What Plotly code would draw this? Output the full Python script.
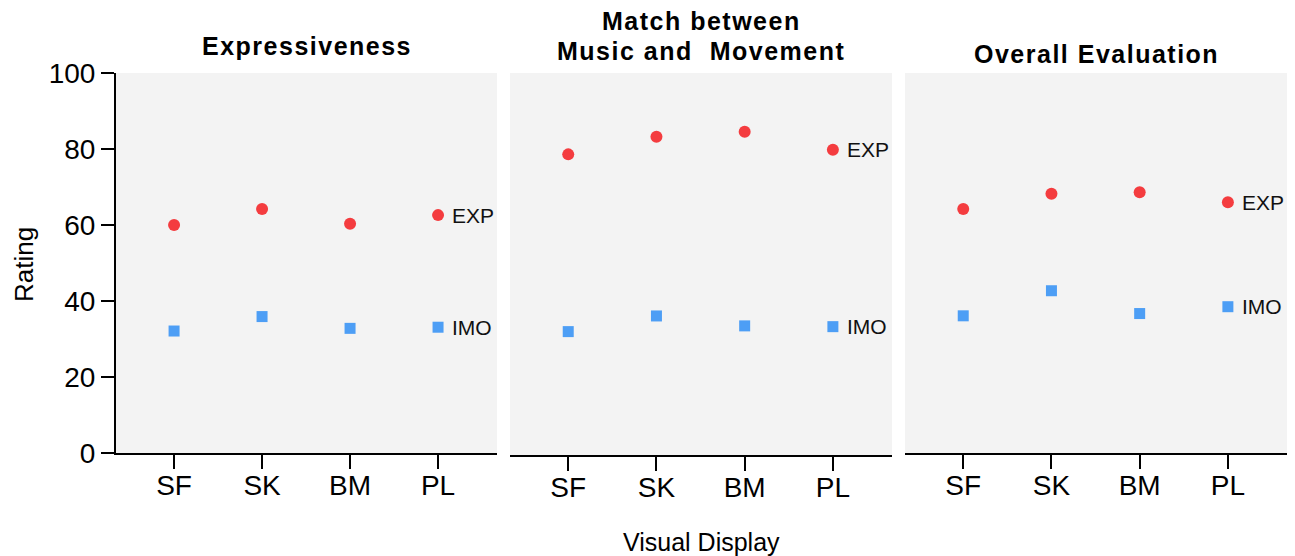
import plotly.graph_objects as go

categories = ["SF", "SK", "BM", "PL"]
panel_titles = ["Expressiveness", "Match between<br>Music and  Movement", "Overall Evaluation"]
exp_values = [
    [60.0, 64.2, 60.3, 62.6],
    [78.7, 83.3, 84.6, 79.9],
    [64.2, 68.2, 68.6, 66.0],
]
imo_values = [
    [32.1, 35.9, 32.8, 33.1],
    [32.3, 36.4, 33.8, 33.6],
    [36.1, 42.7, 36.7, 38.5],
]
y_ticks = [0, 20, 40, 60, 80, 100]
series_names = ["EXP", "IMO"]

# the page body has an 8px margin, so the figure is drawn 8px in from the corner
OFF = 8
W, H = 1295 - OFF, 556 - OFF
RED = "#f43c3f"
BLUE = "#4d9ef5"
BG = "#f3f3f3"
FONT = "Liberation Sans, Arial, sans-serif"

x_dom_px = [(116, 497), (510, 892), (905, 1287)]
y_dom_px = [(73, 453), (73, 455), (73, 453)]
title_y_px = [[46], [20.5, 50.5], [54]]

def px_x(p):
    return (p - OFF) / W

def px_y(p):
    return 1 - (p - OFF) / H

fig = go.Figure()
annotations = []
for i in range(3):
    sfx = "" if i == 0 else str(i + 1)
    xa = "x" + sfx
    ya = "y" + sfx
    fig.add_trace(go.Scatter(
        x=categories, y=exp_values[i], mode="markers", xaxis=xa, yaxis=ya,
        marker=dict(symbol="circle", size=12, color=RED, line=dict(width=0)),
        showlegend=False, cliponaxis=False))
    fig.add_trace(go.Scatter(
        x=categories, y=imo_values[i], mode="markers", xaxis=xa, yaxis=ya,
        marker=dict(symbol="square", size=11, color=BLUE, line=dict(width=0)),
        showlegend=False, cliponaxis=False))
    for name, vals in zip(series_names, [exp_values[i], imo_values[i]]):
        annotations.append(dict(
            x=categories[-1], y=vals[-1], xref=xa, yref=ya, text=name,
            showarrow=False, xanchor="left", yanchor="middle", xshift=12,
            font=dict(family=FONT, size=21, color="#111111")))
    x0, x1 = x_dom_px[i]
    y0, y1 = y_dom_px[i]
    fig.update_layout(**{
        "xaxis" + sfx: dict(
            domain=[px_x(x0), px_x(x1)], anchor=ya, type="category",
            range=[-0.66, 3.67], showline=True, linecolor="black", linewidth=2,
            ticks="outside", ticklen=14, tickwidth=2, tickcolor="black",
            showgrid=False, zeroline=False, automargin=False,
            ticklabelstandoff=-8,
            tickfont=dict(family=FONT, size=28, color="black")),
        "yaxis" + sfx: dict(
            domain=[px_y(y1), px_y(y0)], anchor=xa, range=[0, 100],
            tickvals=y_ticks, showgrid=False, zeroline=False, automargin=False,
            showline=(i == 0), linecolor="black", linewidth=2,
            ticks="outside" if i == 0 else "", ticklen=13, tickwidth=2,
            tickcolor="black", showticklabels=(i == 0),
            tickfont=dict(family=FONT, size=28, color="black")),
    })
    lines = panel_titles[i].split("<br>")
    for line, ty in zip(lines, title_y_px[i]):
        annotations.append(dict(
            x=px_x((x0 + x1) / 2), y=px_y(ty), xref="paper", yref="paper",
            text='<span style="letter-spacing:1.5px">' + line + "</span>",
            showarrow=False, xanchor="center", yanchor="middle",
            font=dict(family=FONT, size=25, color="black", weight="bold")))

annotations.append(dict(
    x=px_x(24), y=px_y(265), xref="paper", yref="paper", text="Rating",
    textangle=-90, showarrow=False, xanchor="center", yanchor="middle",
    font=dict(family=FONT, size=26, color="black")))
annotations.append(dict(
    x=px_x(701), y=px_y(542), xref="paper", yref="paper", text="Visual Display",
    showarrow=False, xanchor="center", yanchor="middle",
    font=dict(family=FONT, size=25, color="black")))

fig.update_layout(
    template="none",
    width=W, height=H, margin=dict(l=0, r=0, t=0, b=0, pad=0, autoexpand=False),
    paper_bgcolor="white", plot_bgcolor=BG, annotations=annotations,
    font=dict(family=FONT), showlegend=False,
)

fig.write_html("out.html")
